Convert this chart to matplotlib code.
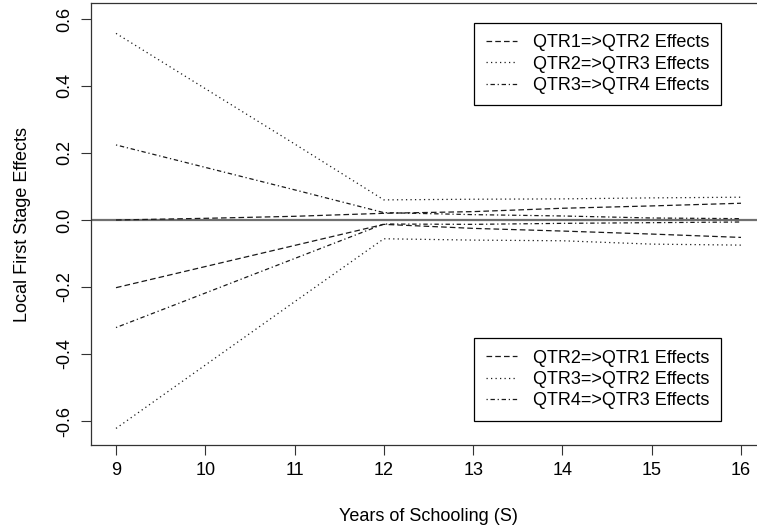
import matplotlib
matplotlib.use("Agg")
import matplotlib.pyplot as plt

plt.rcParams['font.family'] = ['Liberation Sans', 'DejaVu Sans']

# Years of schooling and local first-stage effect bounds per quarter pair
years = [9, 10, 11, 12, 13, 14, 15, 16]
q1_q2 = [0.000, 0.005, 0.011, 0.020, 0.025, 0.035, 0.042, 0.050]
q2_q3 = [0.557, 0.392, 0.227, 0.060, 0.062, 0.063, 0.066, 0.068]
q3_q4 = [0.224, 0.157, 0.090, 0.022, 0.016, 0.012, 0.006, 0.004]
q2_q1 = [-0.202, -0.139, -0.076, -0.013, -0.025, -0.033, -0.042, -0.052]
q3_q2 = [-0.622, -0.433, -0.244, -0.056, -0.060, -0.062, -0.072, -0.075]
q4_q3 = [-0.321, -0.218, -0.115, -0.012, -0.013, -0.010, -0.008, -0.006]

labels_up = ["QTR1=>QTR2 Effects", "QTR2=>QTR3 Effects", "QTR3=>QTR4 Effects"]
labels_down = ["QTR2=>QTR1 Effects", "QTR3=>QTR2 Effects", "QTR4=>QTR3 Effects"]
xticks = [9, 10, 11, 12, 13, 14, 15, 16]
yticks = [-0.6, -0.4, -0.2, 0.0, 0.2, 0.4, 0.6]

W, H = 757, 532
fig = plt.figure(figsize=(W / 100, H / 100), dpi=100)
ax = fig.add_axes([91 / W, 1 - 445 / H, (766 - 91) / W, (445 - 3) / H])

dashed = (0, (4.5, 2.5))
dotted = (0, (1, 2.6))
dotdash = (0, (1, 2.2, 3.5, 2.2))
lw = 0.9
col = '#1a1a1a'

ax.axhline(0, color='#707070', lw=1.6, zorder=1)
up = [
    ax.plot(years, q1_q2, color=col, lw=lw, ls=dashed)[0],
    ax.plot(years, q2_q3, color=col, lw=lw, ls=dotted)[0],
    ax.plot(years, q3_q4, color=col, lw=lw, ls=dotdash)[0],
]
down = [
    ax.plot(years, q2_q1, color=col, lw=lw, ls=dashed)[0],
    ax.plot(years, q3_q2, color=col, lw=lw, ls=dotted)[0],
    ax.plot(years, q4_q3, color=col, lw=lw, ls=dotdash)[0],
]

ax.set_xlim(8.72, 16.28)
ax.set_ylim(-0.6715, 0.6476)
ax.set_xticks(xticks)
ax.set_xticklabels([str(v) for v in xticks])
ax.set_yticks(yticks)
ax.set_yticklabels([f"{v:.1f}" for v in yticks], rotation=90, va='center')
ax.tick_params(axis='both', direction='out', length=7, width=0.8, labelsize=13,
               color='#333333')
ax.tick_params(axis='x', pad=5)
ax.tick_params(axis='y', pad=6)
for s in ax.spines.values():
    s.set_linewidth(0.9)
    s.set_color('#333333')

ax.set_xlabel("Years of Schooling (S)", fontsize=13, labelpad=21)
ax.set_ylabel("Local First Stage Effects", fontsize=13, labelpad=18)

leg_kw = dict(loc='upper left', fontsize=13, frameon=True, fancybox=False,
              edgecolor='black', framealpha=1, borderaxespad=0,
              handlelength=1.75, handletextpad=0.9, labelspacing=0.24,
              borderpad=0.64, bbox_transform=fig.transFigure)
leg1 = ax.legend(up, labels_up, bbox_to_anchor=(474 / W, 1 - 22.7 / H), **leg_kw)
leg1.get_frame().set_linewidth(0.9)
ax.add_artist(leg1)
leg2 = ax.legend(down, labels_down, bbox_to_anchor=(474 / W, 1 - 338 / H), **leg_kw)
leg2.get_frame().set_linewidth(0.9)

fig.savefig("out.png", dpi=100)
